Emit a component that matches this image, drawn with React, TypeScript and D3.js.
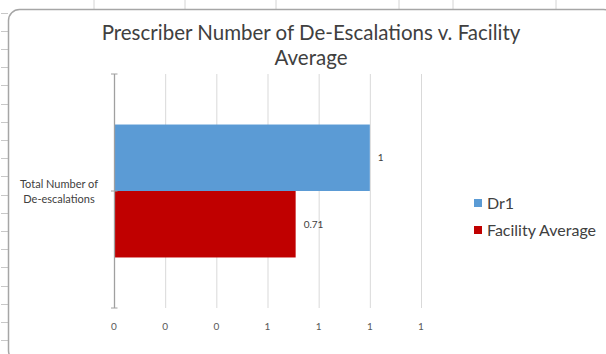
import React from 'react';
import * as d3 from 'd3';

const categories = ['Total Number of De-escalations'];
const categoryLines = ['Total Number of', 'De-escalations'];
const seriesNames = ['Dr1', 'Facility Average'];
const seriesValues = [1, 0.71];
const seriesColors = ['#5B9BD5', '#C00000'];
const valueLabels = ['1', '0.71'];
const xTicks = [0, 0.2, 0.4, 0.6, 0.8, 1.0, 1.2];
const titleLines = ['Prescriber Number of De-Escalations v. Facility', 'Average'];

// spreadsheet chrome behind the chart object
const sheetColumnEdges = [94, 185, 276, 399, 453, 556];
const sheetRowEdges = d3.range(12.5, 354, 18.2);

const W = 606;
const H = 354;
const FONT = 'Lato, "Open Sans", sans-serif';

const App: React.FC = () => {
  const x = d3.scaleLinear().domain([0, 1.2]).range([114, 421]);
  const y = d3.scaleBand().domain(categories).range([74, 308]).paddingInner(0).paddingOuter(0.38);
  const ySeries = d3.scaleBand().domain(seriesNames).range([0, y.bandwidth()]);
  const fmt = d3.format('.0f');
  const [plotTop, plotBottom] = y.range();

  return (
    <svg
      width={W}
      height={H}
      style={{ position: 'absolute', left: 0, top: 0, background: '#fff' }}
      fontFamily={FONT}
    >
      {sheetColumnEdges.map((cx) => (
        <line key={cx} x1={cx} x2={cx} y1={0} y2={9} stroke="#d4d4d4" />
      ))}
      {sheetRowEdges.map((ry) => (
        <line key={ry} x1={1} x2={8} y1={Math.round(ry) + 0.5} y2={Math.round(ry) + 0.5} stroke="#c8c8c8" />
      ))}

      <rect x={8.5} y={9.5} width={606} height={352} rx={11} fill="#fff" stroke="#a6a6a6" strokeWidth={1.5} />

      {titleLines.map((t, i) => (
        <text key={t} x={311} y={40 + i * 25} textAnchor="middle" fontSize={20.5} fill="#404040">
          {t}
        </text>
      ))}

      {/* gridlines */}
      {xTicks.slice(1).map((t) => (
        <line key={t} x1={x(t) + 0.5} x2={x(t) + 0.5} y1={plotTop} y2={plotBottom} stroke="#d9d9d9" />
      ))}

      {/* bars */}
      {categories.map((c) => (
        <g key={c} transform={`translate(0,${y(c)})`}>
          {seriesNames.map((s, i) => (
            <rect
              key={s}
              x={x(0)}
              y={ySeries(s)}
              width={x(seriesValues[i]) - x(0)}
              height={ySeries.bandwidth()}
              fill={seriesColors[i]}
            />
          ))}
          {seriesNames.map((s, i) => (
            <text
              key={s}
              x={x(seriesValues[i]) + 8}
              y={(ySeries(s) ?? 0) + ySeries.bandwidth() / 2}
              dy="0.35em"
              fontSize={10}
              fill="#404040"
            >
              {valueLabels[i]}
            </text>
          ))}
        </g>
      ))}

      {/* category axis */}
      <line x1={x(0) + 0.5} x2={x(0) + 0.5} y1={plotTop} y2={plotBottom} stroke="#a0a0a0" strokeWidth={1.3} />
      {[plotTop, ...categories.map((c) => (y(c) ?? 0) + y.bandwidth() / 2), plotBottom].map((ty) => (
        <line key={ty} x1={x(0) - 3} x2={x(0) + 3.5} y1={ty} y2={ty} stroke="#a0a0a0" />
      ))}
      {categories.map((c) => {
        const cy = (y(c) ?? 0) + y.bandwidth() / 2;
        return categoryLines.map((w, i) => (
          <text key={w} x={59} y={cy - 7 + i * 15} dy="0.35em" textAnchor="middle" fontSize={11} fill="#404040">
            {w}
          </text>
        ));
      })}

      {/* value axis labels */}
      {xTicks.map((t) => (
        <text key={t} x={x(t)} y={326} dy="0.35em" textAnchor="middle" fontSize={10} fill="#595959">
          {fmt(t)}
        </text>
      ))}

      {/* legend */}
      {seriesNames.map((s, i) => (
        <g key={s} transform={`translate(474,${203 + i * 27})`}>
          <rect x={0} y={-4} width={8} height={8} fill={seriesColors[i]} />
          <text x={13} y={0} dy="0.35em" fontSize={16} fill="#404040">
            {s}
          </text>
        </g>
      ))}
    </svg>
  );
};

export default App;
